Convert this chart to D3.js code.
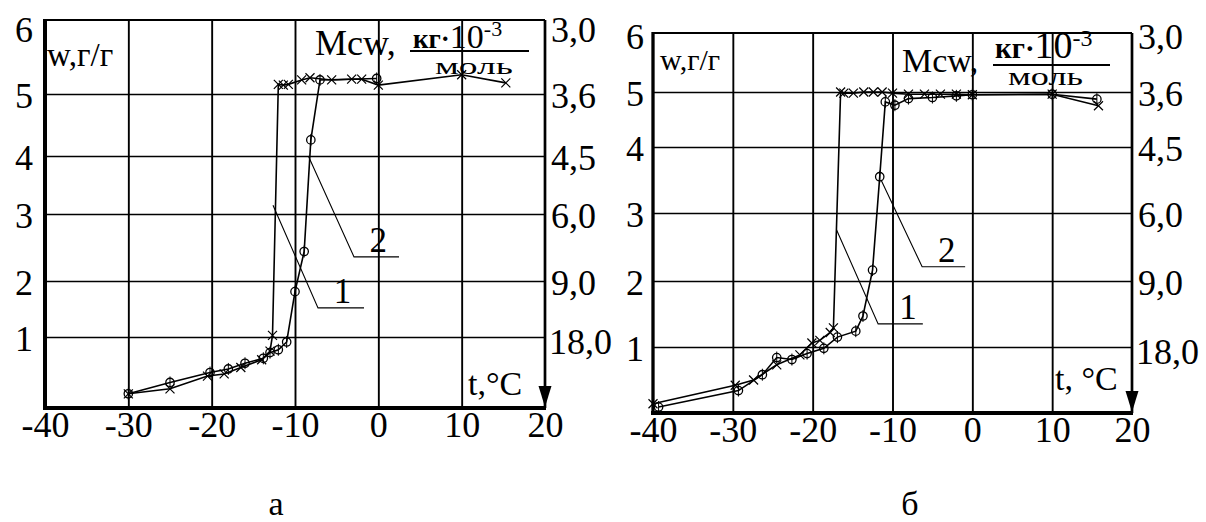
<!DOCTYPE html>
<html><head><meta charset="utf-8">
<script src="https://cdn.jsdelivr.net/npm/d3@7"></script>
<style>
html,body{margin:0;padding:0;background:#fff;}
svg{display:block;}
svg text{font-family:"Liberation Serif","DejaVu Serif","Times New Roman",serif !important;fill:#000;}
</style></head><body>
<svg id="chart" width="1206" height="522"></svg>
<script>
// ---------- data ----------
const tempTicks = [-40, -30, -20, -10, 0, 10, 20];
const gridTemps = [-30, -20, -10, 0, 10];
const wTicks = [1, 2, 3, 4, 5, 6];
const gridW = [1, 2, 3, 4, 5];
const mcwTickLabels = ["18,0", "9,0", "6,0", "4,5", "3,6", "3,0"];
const panelLetters = ["а", "б"];
const wTitle = "w,г/г";
const mcwTitle = "Mcw,";
const unitNumA = "кг·";
const unitNumB = "10";
const unitExp = "-3";
const unitDen = "моль";
const tTitles = ["t,°C", "t, °C"];

// panel а
const aT1 = [-30, -25, -20.5, -18.5, -16.5, -14, -13, -12.7, -12, -11.4, -10.8, -9.2, -8.2, -5.6, -3.2, -2, 0, 10, 15.3];
const aW1 = [0.2, 0.27, 0.45, 0.48, 0.57, 0.68, 0.8, 1.03, 5.13, 5.12, 5.13, 5.19, 5.22, 5.19, 5.2, 5.2, 5.12, 5.26, 5.15];
const aT2 = [-30, -25, -20.2, -18, -16, -13.8, -13, -12, -11, -10, -8.9, -8.1, -7, -0.2];
const aW2 = [0.2, 0.36, 0.5, 0.55, 0.63, 0.7, 0.78, 0.82, 0.93, 1.81, 2.44, 4.26, 5.19, 5.21];
// panel б
const bT1 = [-40, -29.7, -27.4, -24.5, -21.6, -20.1, -19.1, -17.8, -17.4, -16.5, -16.1, -14.9, -13.6, -12.4, -11.3, -10, -8, -6, -4, -2, 0, 10, 15.8];
const bW1 = [0.14, 0.42, 0.5, 0.73, 0.88, 1.06, 1.1, 1.22, 1.29, 5.0, 4.98, 4.98, 5.0, 5.0, 5.0, 4.98, 4.96, 4.96, 4.96, 4.96, 4.95, 4.96, 4.75];
const bT2 = [-39.3, -29.3, -26.3, -24.5, -22.6, -20.7, -18.6, -16.9, -14.6, -13.7, -12.5, -11.6, -10.9, -9.7, -8, -5, -2, 0, 10, 15.6];
const bW2 = [0.09, 0.34, 0.58, 0.84, 0.81, 0.9, 0.98, 1.15, 1.24, 1.47, 2.16, 3.55, 4.82, 4.76, 4.88, 4.9, 4.93, 4.95, 4.96, 4.87];

// callouts: [from t, from w], [corner t, corner w], end t, label t
const aCall1 = { name: "1", from: [-12.64, 3.15], corner: [-7.24, 1.52], endT: -1.72, labelT: -4.3 };
const aCall2 = { name: "2", from: [-8.4, 4.0], corner: [-2.92, 2.36], endT: 2.48, labelT: 0.0 };
const bCall1 = { name: "1", from: [-17.0, 2.75], corner: [-11.8, 1.35], endT: -6.2, labelT: -8.05 };
const bCall2 = { name: "2", from: [-11.43, 3.5], corner: [-6.29, 2.21], endT: -0.9, labelT: -3.22 };

// ---------- layout ----------
const panels = [
  { xr: [45, 545], yr: [408, 337, 281, 214, 156, 94, 20],
    c1: [aT1, aW1], c2: [aT2, aW2], calls: [aCall1, aCall2],
    leftW: 4, bottomW: 4, rightW: 2.7, topW: 2,
    leftPad: 12, topShift: 8,
    wTitle: { x: 47, y: 66, fs: 33 },
    mcw: { x: 315, y: 55, fs: 36 },
    frac: { x0: 410, x1: 529, ly: 51, nx: 413, ny: 48, fs: [27, 34, 22], dx: 435, dy: 74, dfs: 23, dlen: 78 },
    tt: { x: 468, y: 395 },
    letter: { x: 276, y: 515 } },
  { xr: [653, 1132], yr: [413, 347, 281, 213, 147, 92, 33],
    c1: [bT1, bW1], c2: [bT2, bW2], calls: [bCall1, bCall2],
    leftW: 3.3, bottomW: 4, rightW: 2.7, topW: 2,
    leftPad: 9, topShift: 2,
    wTitle: { x: 660, y: 70, fs: 30 },
    mcw: { x: 902, y: 72, fs: 34 },
    frac: { x0: 993, x1: 1110, ly: 65, nx: 995, ny: 58, fs: [29, 38, 24], dx: 1008, dy: 85, dfs: 25, dlen: 75 },
    tt: { x: 1055, y: 390 },
    letter: { x: 910, y: 515 } }
];

const svg = d3.select("#chart");
const FS = 36;

panels.forEach((p, i) => {
  const x = d3.scaleLinear().domain([-40, 20]).range(p.xr);
  const y = d3.scaleLinear().domain([0, 1, 2, 3, 4, 5, 6]).range(p.yr);
  const g = svg.append("g");
  const xL = x(-40), xR = x(20), yB = y(0), yT = y(6);

  // grid
  g.append("g").attr("transform", `translate(0,${yB})`)
    .call(d3.axisBottom(x).tickValues(gridTemps).tickSize(-(yB - yT)).tickFormat(""))
    .call(s => s.select(".domain").remove())
    .selectAll("line").attr("stroke", "#000").attr("stroke-width", 1.9);
  g.append("g").attr("transform", `translate(${xL},0)`)
    .call(d3.axisLeft(y).tickValues(gridW).tickSize(-(xR - xL)).tickFormat(""))
    .call(s => s.select(".domain").remove())
    .selectAll("line").attr("stroke", "#000").attr("stroke-width", 1.7);

  // frame / axes
  g.append("line").attr("x1", xL).attr("x2", xR).attr("y1", yT).attr("y2", yT).attr("stroke", "#000").attr("stroke-width", p.topW);
  g.append("line").attr("x1", xR).attr("x2", xR).attr("y1", yT).attr("y2", yB).attr("stroke", "#000").attr("stroke-width", p.rightW);
  g.append("line").attr("x1", xL).attr("x2", xL).attr("y1", yT - 1).attr("y2", yB + 2).attr("stroke", "#000").attr("stroke-width", p.leftW);
  g.append("line").attr("x1", xL - 2).attr("x2", xR + 1).attr("y1", yB).attr("y2", yB).attr("stroke", "#000").attr("stroke-width", p.bottomW);
  // arrow on right axis
  g.append("path").attr("d", `M${xR - 6.5},${yB - 22}L${xR + 6.5},${yB - 22}L${xR},${yB - 1}Z`).attr("fill", "#000");

  // tick labels
  const bx = g.append("g").attr("transform", `translate(0,${yB})`)
    .call(d3.axisBottom(x).tickValues(tempTicks).tickSize(0).tickPadding(3).tickFormat(d => d3.format("d")(d).replace("−", "-")));
  bx.select(".domain").remove();
  bx.attr("font-family", null).attr("font-size", FS);
  bx.selectAll("text").attr("font-size", FS);

  const ly = g.append("g").attr("transform", `translate(${xL},0)`)
    .call(d3.axisLeft(y).tickValues(wTicks).tickSize(0).tickPadding(p.leftPad).tickFormat(d3.format("d")));
  ly.select(".domain").remove();
  ly.attr("font-family", null).attr("font-size", FS);
  ly.selectAll("text").attr("font-size", FS)
    .attr("dy", d => d === 6 ? (0.32 * FS + p.topShift + 2) : (0.32 * FS + 2));

  const ry = g.append("g").attr("transform", `translate(${xR},0)`)
    .call(d3.axisRight(y).tickValues(wTicks).tickSize(0).tickPadding(6).tickFormat(d => mcwTickLabels[d - 1]));
  ry.select(".domain").remove();
  ry.attr("font-family", null).attr("font-size", FS);
  ry.selectAll("text").attr("font-size", FS)
    .attr("dy", d => d === 6 ? (0.32 * FS + p.topShift + 2) : d === 1 ? (0.32 * FS + 5) : (0.32 * FS + 2))
    .attr("dx", d => d === 1 ? -2 : 0);

  // titles
  g.append("text").attr("x", p.wTitle.x).attr("y", p.wTitle.y).attr("font-size", p.wTitle.fs).text(wTitle);
  g.append("text").attr("x", p.mcw.x).attr("y", p.mcw.y).attr("font-size", p.mcw.fs).text(mcwTitle);
  const num = g.append("text").attr("x", p.frac.nx).attr("y", p.frac.ny);
  num.append("tspan").attr("font-size", p.frac.fs[0]).attr("font-weight", "bold").text(unitNumA);
  num.append("tspan").attr("font-size", p.frac.fs[1]).text(unitNumB);
  num.append("tspan").attr("font-size", p.frac.fs[2]).attr("dy", -12).text(unitExp);
  g.append("line").attr("x1", p.frac.x0).attr("x2", p.frac.x1).attr("y1", p.frac.ly).attr("y2", p.frac.ly)
    .attr("stroke", "#000").attr("stroke-width", 1.8);
  g.append("text").attr("x", p.frac.dx).attr("y", p.frac.dy).attr("font-size", p.frac.dfs)
    .attr("textLength", p.frac.dlen).attr("lengthAdjust", "spacingAndGlyphs").text(unitDen);
  g.append("text").attr("x", p.tt.x).attr("y", p.tt.y).attr("font-size", 34).text(tTitles[i]);
  g.append("text").attr("x", p.letter.x).attr("y", p.letter.y).attr("font-size", 34)
    .attr("text-anchor", "middle").text(panelLetters[i]);

  // curves
  const line = d3.line().x(d => x(d[0])).y(d => y(d[1]));
  const pts1 = p.c1[0].map((t, k) => [t, p.c1[1][k]]);
  const pts2 = p.c2[0].map((t, k) => [t, p.c2[1][k]]);
  g.append("path").datum(pts2).attr("d", line).attr("fill", "none").attr("stroke", "#000").attr("stroke-width", 1.6);
  g.append("path").datum(pts1).attr("d", line).attr("fill", "none").attr("stroke", "#000").attr("stroke-width", 1.6);

  g.append("g").selectAll("path").data(pts1).join("path")
    .attr("transform", d => `translate(${x(d[0])},${y(d[1])})`)
    .attr("d", "M-4.5,-4.5L4.5,4.5M-4.5,4.5L4.5,-4.5")
    .attr("stroke", "#000").attr("stroke-width", 1.2).attr("fill", "none");
  const cg = g.append("g").selectAll("g").data(pts2).join("g")
    .attr("transform", d => `translate(${x(d[0])},${y(d[1])})`);
  cg.append("circle").attr("r", 4.2).attr("fill", "none").attr("stroke", "#000").attr("stroke-width", 1.3);
  cg.append("line").attr("y1", -6).attr("y2", 6).attr("stroke", "#000").attr("stroke-width", 1);

  // callouts
  p.calls.forEach(c => {
    const cx = x(c.corner[0]), cy = y(c.corner[1]);
    g.append("path")
      .attr("d", `M${x(c.from[0])},${y(c.from[1])}L${cx},${cy}L${x(c.endT)},${cy}`)
      .attr("fill", "none").attr("stroke", "#000").attr("stroke-width", 1.1);
    g.append("text").attr("x", x(c.labelT)).attr("y", cy - 5).attr("text-anchor", "middle")
      .attr("font-size", 35).text(c.name);
  });
});
</script>
</body></html>
